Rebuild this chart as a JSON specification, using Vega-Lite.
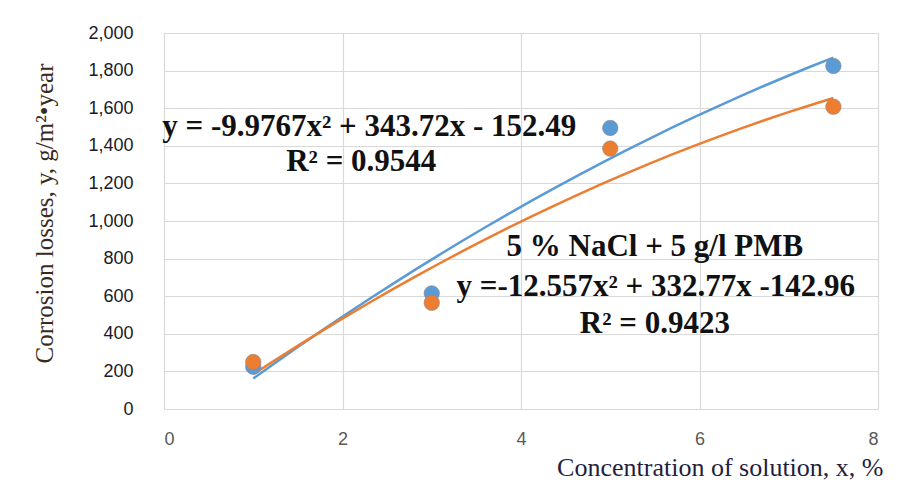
{
  "$schema": "https://vega.github.io/schema/vega-lite/v6.json",
  "autosize": "none",
  "width": 714,
  "height": 376,
  "padding": {"left": 164, "top": 33, "right": 22, "bottom": 85},
  "background": "white",
  "config": {
    "view": {"stroke": "#D9D9D9", "strokeWidth": 1},
    "axis": {"grid": true, "gridColor": "#D9D9D9", "gridWidth": 1.2, "domain": false, "ticks": false, "labelOverlap": false}
  },
  "datasets": {
    "points": [
      {"series": "5 % NaCl", "x": 1, "y": 225},
      {"series": "5 % NaCl", "x": 3, "y": 615},
      {"series": "5 % NaCl", "x": 5, "y": 1495},
      {"series": "5 % NaCl", "x": 7.5, "y": 1825},
      {"series": "5 % NaCl + 5 g/l PMB", "x": 1, "y": 250},
      {"series": "5 % NaCl + 5 g/l PMB", "x": 3, "y": 565},
      {"series": "5 % NaCl + 5 g/l PMB", "x": 5, "y": 1385},
      {"series": "5 % NaCl + 5 g/l PMB", "x": 7.5, "y": 1608}
    ],
    "notes": [
      {"x": 2.3, "y": 1500, "label": "y = -9.9767x² + 343.72x - 152.49"},
      {"x": 2.21, "y": 1315, "label": "R² = 0.9544"},
      {"x": 5.5, "y": 862, "label": "5 % NaCl + 5 g/l PMB"},
      {"x": 5.51, "y": 650, "label": "y =-12.557x²  + 332.77x -142.96"},
      {"x": 5.5, "y": 452, "label": "R² = 0.9423"}
    ]
  },
  "encoding": {
    "x": {
      "field": "x", "type": "quantitative",
      "scale": {"domain": [0, 8], "nice": false},
      "axis": {
        "values": [0, 2, 4, 6, 8],
        "format": "d",
        "title": "Concentration of solution, x, %",
        "labelFont": "Liberation Sans", "labelFontSize": 18, "labelColor": "#595959",
        "labelPadding": 21,
        "titleFont": "Liberation Serif", "titleFontSize": 26, "titleFontWeight": "normal", "titleColor": "#1F1F3F",
        "titleAnchor": "end", "titleAlign": "right", "titleX": 719, "titleY": 45, "titleBaseline": "top"
      }
    },
    "y": {
      "field": "y", "type": "quantitative",
      "scale": {"domain": [0, 2000], "nice": false},
      "axis": {
        "values": [0, 200, 400, 600, 800, 1000, 1200, 1400, 1600, 1800, 2000],
        "tickCount": 11,
        "format": ",.0f",
        "title": "Corrosion losses, y, g/m²•year",
        "labelFont": "Liberation Sans", "labelFontSize": 18, "labelColor": "#1A1A2A",
        "labelPadding": 31,
        "titleFont": "Liberation Serif", "titleFontSize": 25, "titleFontWeight": "normal", "titleColor": "#3A2A1A",
        "titleX": -107, "titleY": 180
      }
    }
  },
  "layer": [
    {
      "data": {"name": "points"},
      "transform": [
        {"regression": "y", "on": "x", "groupby": ["series"], "method": "poly", "order": 2, "extent": [1, 7.5]}
      ],
      "mark": {"type": "line", "strokeWidth": 2.5},
      "encoding": {
        "color": {
          "field": "series", "type": "nominal",
          "scale": {"domain": ["5 % NaCl", "5 % NaCl + 5 g/l PMB"], "range": ["#5B9BD5", "#ED7D31"]},
          "legend": null
        }
      }
    },
    {
      "data": {"name": "points"},
      "mark": {"type": "circle", "size": 240, "opacity": 1, "stroke": "#8A8A8A", "strokeWidth": 0.6},
      "encoding": {
        "color": {"field": "series", "type": "nominal", "legend": null},
        "order": {"field": "series"}
      }
    },
    {
      "data": {"name": "notes"},
      "mark": {"type": "text", "font": "Liberation Serif", "fontWeight": "bold", "fontSize": 31, "color": "#111111", "align": "center", "baseline": "middle"},
      "encoding": {
        "text": {"field": "label"}
      }
    }
  ]
}
